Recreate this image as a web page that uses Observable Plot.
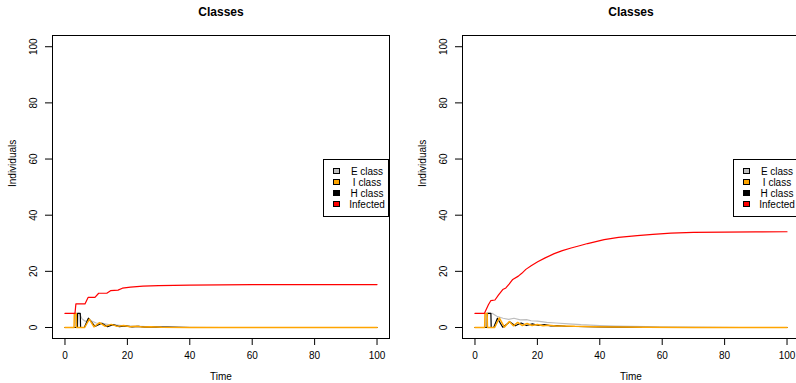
<!DOCTYPE html>
<html><head><meta charset="utf-8">
<script src="https://cdn.jsdelivr.net/npm/d3@7"></script>
<script src="https://cdn.jsdelivr.net/npm/@observablehq/plot@0.6"></script>
<style>
html,body{margin:0;padding:0;background:#fff;}
#wrap{width:796px;height:383px;overflow:hidden;position:relative;}
#row{display:flex;width:820px;}
.panel{position:relative;width:410px;height:383px;flex:none;}
.legend{position:absolute;left:323px;top:159px;width:66px;height:58px;border:1px solid #000;background:#fff;box-sizing:border-box;font:10px "Liberation Sans",Arial,sans-serif;color:#000;}
.item{position:absolute;left:0;width:100%;height:11px;line-height:11px;}
.sw{position:absolute;left:9px;top:2px;width:7px;height:6px;border:1px solid #000;box-sizing:border-box;}
.lab{position:absolute;left:22px;right:0;top:0;text-align:center;white-space:nowrap;}
</style>
</head><body>
<div id="wrap"><div id="row"></div></div>
<script>
// ---- data ----
const plotTitle = "Classes";
const xLabel = "Time";
const yLabel = "Individuals";
const xTicks = [0, 20, 40, 60, 80, 100];
const yTicks = [0, 20, 40, 60, 80, 100];
const seriesNames = ["E class", "I class", "H class", "Infected"];
const seriesColors = ["#BEBEBE", "#FFA500", "#000000", "#FF0000"];

// left panel  [time, individuals]
const leftE = [[0,0],[3.3,0],[3.4,5],[4.6,5],[5.5,3.0],[6.5,2.2],[8,2.6],[10,1.6],[12,1.5],[14,1.0],[16,0.9],[19,0.6],[22,0.5],[26,0.3],[32,0.15],[40,0.05],[50,0],[100,0]];
const leftI = [[0,0],[2.9,0],[3.0,5],[3.6,5],[3.7,0],[6.3,0],[7.8,3.0],[9.3,0.2],[11.1,1.7],[12.9,0.4],[14.8,1.1],[16.8,0.4],[18.8,0.7],[20.8,0.3],[22.8,0.45],[25,0.2],[27.5,0.25],[31,0.1],[40,0],[100,0]];
const leftH = [[0,0],[4.0,0],[4.05,5],[4.9,5],[5.0,0],[6.2,0],[7.5,3.3],[9.6,0.4],[11.8,1.5],[13.6,0.3],[15.4,1.0],[17.4,0.3],[19.4,0.6],[21.5,0.2],[23.5,0.4],[25.5,0.15],[27.5,0.25],[30,0.1],[33,0.1],[40,0],[100,0]];
const leftInf = [[0,5],[3.2,5],[3.5,8.4],[6.4,8.4],[7.4,10.7],[9.6,10.7],[10.8,12.2],[13.4,12.2],[14.6,13.1],[17,13.3],[18.4,14.0],[21,14.4],[25,14.7],[30,14.9],[35,15.0],[40,15.1],[50,15.2],[60,15.3],[80,15.3],[100,15.3]];

// right panel  [time, individuals]
const rightE = [[0,0],[3.4,0],[3.5,5],[5.6,5],[7,4.0],[9,3.3],[10.8,2.9],[12.5,3.3],[14.5,2.7],[16.5,2.8],[18,2.4],[20,2.3],[23,1.8],[26,1.6],[30,1.3],[34,1.0],[40,0.7],[45,0.5],[50,0.4],[60,0.2],[70,0.1],[85,0],[100,0]];
const rightI = [[0,0],[3.1,0],[3.2,5],[3.9,5],[4.0,0],[6.3,0],[7.8,3.4],[9.4,0.1],[11,2.1],[12.3,0.6],[13.7,1.8],[15.2,0.7],[16.7,1.4],[18.3,0.7],[20,1.1],[21.8,0.6],[23.6,0.8],[26,0.5],[28.5,0.55],[32,0.4],[38,0.3],[45,0.15],[55,0.05],[70,0],[100,0]];
const rightH = [[0,0],[3.9,0],[4.0,5],[5.1,5],[5.2,0],[6.0,0],[7.2,3.3],[8.9,0.1],[11.2,2.0],[12.9,0.6],[14.8,1.6],[16.5,0.7],[18.4,1.3],[20.3,0.7],[22.3,1.0],[24.3,0.6],[26.5,0.7],[29,0.45],[33,0.35],[40,0.2],[50,0.05],[60,0],[100,0]];
const rightInf = [[0,5],[3.0,5],[4.3,8.1],[5.1,9.6],[6.4,9.8],[7.5,11.5],[8.9,13.5],[9.9,14.1],[11,15.5],[12.1,17.1],[13.9,18.3],[15,19.3],[16.3,20.7],[18,22.0],[20.1,23.4],[22.5,24.8],[25.4,26.3],[28,27.4],[30.8,28.3],[33.5,29.1],[36.1,29.9],[41.4,31.3],[46,32.1],[52,32.7],[57,33.2],[62.8,33.6],[70,33.85],[80,34.0],[90,34.05],[100,34.1]];

const panels = [
  [leftE, leftI, leftH, leftInf],
  [rightE, rightI, rightH, rightInf]
];

const FONT = '"Liberation Sans", Arial, Helvetica, sans-serif';
const row = document.getElementById("row");
// draw order: E (grey), H (black), I (orange), Infected (red)
const drawOrder = [0, 2, 1, 3];

for (const series of panels) {
  const marks = [
    Plot.frame({stroke: "#000", strokeWidth: 1}),
    Plot.axisX(xTicks, {tickSize: 7, tickPadding: 6, label: null, fontSize: 10}),
    Plot.axisY(yTicks, {tickSize: 7, tickFormat: () => "", label: null}),
    Plot.text(yTicks, {y: d => d, text: d => String(d), frameAnchor: "left", rotate: -90, dx: -18.5, textAnchor: "middle", lineAnchor: "middle", fontSize: 10, fill: "#000"}),
    Plot.text([xLabel], {text: d => d, frameAnchor: "bottom", dy: 38, lineAnchor: "middle", fontSize: 10, fill: "#000"}),
    Plot.text([yLabel], {text: d => d, frameAnchor: "left", rotate: -90, dx: -40, lineAnchor: "middle", fontSize: 10, fill: "#000"}),
    Plot.text([plotTitle], {text: d => d, frameAnchor: "top", dy: -23, lineAnchor: "middle", fontSize: 12, fontWeight: "bold", fill: "#000"})
  ];
  for (const k of drawOrder) {
    marks.push(Plot.line(series[k], {x: d => d[0], y: d => d[1], stroke: seriesColors[k], strokeWidth: k === 1 ? 1.5 : 1.2}));
  }
  const chart = Plot.plot({
    width: 410, height: 383,
    marginLeft: 52, marginRight: 21, marginTop: 35, marginBottom: 45,
    x: {domain: [-4, 104]},
    y: {domain: [-3.92, 104]},
    style: {fontFamily: FONT, fontSize: "10px", color: "#000", background: "#fff", overflow: "visible"},
    marks
  });
  const div = document.createElement("div");
  div.className = "panel";
  div.appendChild(chart);
  const leg = document.createElement("div");
  leg.className = "legend";
  seriesNames.forEach((name, i) => {
    const it = document.createElement("div");
    it.className = "item";
    it.style.top = (6 + i * 11) + "px";
    const sw = document.createElement("div");
    sw.className = "sw";
    sw.style.background = seriesColors[i];
    const lab = document.createElement("div");
    lab.className = "lab";
    lab.textContent = name;
    it.appendChild(sw); it.appendChild(lab);
    leg.appendChild(it);
  });
  div.appendChild(leg);
  row.appendChild(div);
}
</script>
</body></html>
